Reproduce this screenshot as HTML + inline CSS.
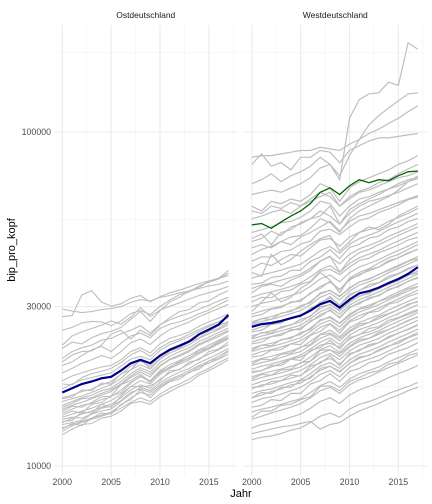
<!DOCTYPE html>
<html><head><meta charset="utf-8">
<style>
html,body{margin:0;padding:0;background:#fff;}
svg{display:block;font-family:"Liberation Sans",sans-serif;}
</style></head>
<body>
<svg id="chart" width="432" height="504" viewBox="0 0 432 504">
<g id="grid"></g>
<g id="lines"></g>
<g id="axes"></g>
</svg>
<script>
const years = [2000,2001,2002,2003,2004,2005,2006,2007,2008,2009,2010,2011,2012,2013,2014,2015,2016,2017];
const panels = ["Ostdeutschland","Westdeutschland"];
const yTicks = [10000,30000,100000];
const yTickLabels = ["10000","30000","100000"];
const yMinor = [17320,54770,173200];
const xTicks = [2000,2005,2010,2015];
const xMinor = [2002.5,2007.5,2012.5,2017.5];
// values in thousands of euros
const eastGray = [
[13.0,13.3,13.6,13.9,14.2,14.5,15.2,16.0,16.6,16.3,17.3,18.0,18.5,19.0,19.8,20.3,20.9,21.6],
[13.5,13.9,14.3,14.6,15.0,15.3,16.0,16.9,17.5,17.1,18.2,19.0,19.5,20.2,21.0,21.6,22.3,23.1],
[14.0,14.3,14.6,14.9,15.3,15.7,16.4,17.3,18.0,17.6,18.8,19.6,20.2,20.8,21.7,22.4,23.2,24.0],
[14.4,14.8,15.2,15.4,15.8,16.1,16.9,17.8,18.5,18.0,19.3,20.1,20.7,21.4,22.3,23.0,23.8,24.6],
[14.8,15.2,15.5,15.9,16.3,16.7,17.5,18.4,19.1,18.5,19.9,20.8,21.3,22.0,23.0,23.7,24.4,25.3],
[15.2,15.6,16.0,16.3,16.8,17.1,17.9,18.9,19.7,19.1,20.4,21.3,22.0,22.6,23.6,24.3,25.1,25.9],
[15.6,15.9,16.2,16.6,17.1,17.5,18.3,19.4,20.1,19.5,20.9,21.8,22.4,23.1,24.1,24.9,25.6,26.5],
[16.0,16.3,16.7,17.0,17.5,17.9,18.8,19.9,20.6,19.9,21.4,22.4,23.0,23.7,24.7,25.5,26.3,27.1],
[13.8,14.0,13.9,14.3,14.9,15.1,15.7,16.6,17.0,16.6,17.5,18.2,18.7,19.3,20.0,20.6,21.3,22.2],
[17.0,17.6,18.1,18.4,18.7,19.0,19.9,20.9,21.3,20.8,22.2,23.1,23.7,24.4,25.3,26.1,27.0,27.8],
[19.0,19.6,20.3,20.8,21.4,21.0,22.0,23.4,24.0,23.1,24.5,25.6,26.3,27.0,28.0,28.8,29.6,30.5],
[21.0,22.0,22.6,23.0,23.8,24.1,24.9,25.5,26.3,25.0,26.5,27.4,28.1,28.7,29.5,30.3,31.2,32.0],
[23.0,24.5,25.2,25.8,26.4,27.2,26.6,27.9,29.8,28.0,29.3,30.1,30.8,31.6,32.4,33.0,33.7,34.5],
[28.0,28.2,32.5,33.5,31.0,30.1,30.6,31.8,32.4,31.0,32.1,33.0,33.6,34.4,35.2,35.8,36.4,37.2],
[29.5,29.1,28.8,29.0,29.4,29.6,30.0,30.9,31.5,31.2,32.0,32.4,33.0,33.4,34.0,34.6,35.0,35.8],
[25.5,26.0,26.8,27.1,27.0,26.3,27.2,28.6,29.2,28.4,30.0,31.4,32.6,33.2,34.6,35.5,36.3,37.8],
[20.0,20.5,21.4,22.3,22.8,22.0,23.3,24.5,25.0,24.2,25.8,26.6,27.0,27.7,28.6,29.3,30.4,31.4],
[18.0,18.6,19.0,19.4,19.8,20.0,20.8,22.0,22.6,21.8,23.2,24.1,24.6,25.2,26.2,27.0,27.7,28.6],
[14.6,15.1,15.0,15.5,16.1,16.2,17.5,18.0,18.8,17.9,19.0,19.8,20.4,21.1,21.9,22.6,23.4,24.2],
[12.7,13.2,13.5,13.8,14.1,14.4,14.9,15.5,16.0,15.6,16.4,17.1,17.6,18.2,19.0,19.6,20.4,21.1],
[13.3,13.5,13.7,14.3,14.6,14.8,15.6,16.4,17.2,16.8,17.8,18.5,19.1,19.6,20.4,21.0,21.7,22.5],
[15.0,15.4,15.9,16.0,16.5,16.9,17.6,18.6,19.4,18.8,20.0,20.9,21.5,22.2,23.2,23.9,24.7,25.5],
[12.9,13.4,13.2,13.9,14.4,14.3,15.3,15.8,16.9,16.0,17.1,17.9,18.2,19.1,19.5,20.6,21.0,22.0],
[13.6,13.7,14.5,14.4,15.3,15.0,16.2,17.3,17.3,17.4,18.0,19.3,19.4,20.5,20.8,22.0,22.4,23.5],
[14.2,14.6,14.4,15.3,15.5,16.2,16.6,17.7,18.6,17.8,19.2,19.7,20.6,21.0,22.2,22.6,23.6,24.3],
[12.4,12.9,13.3,13.4,13.9,14.1,14.6,15.4,15.6,15.3,16.1,16.7,17.3,17.8,18.7,19.3,20.0,20.8],
[15.9,16.1,16.9,16.8,17.7,17.6,18.9,19.4,20.8,19.6,21.0,22.1,22.6,23.5,24.2,25.3,25.8,26.9],
[20.5,21.5,22.0,22.1,23.0,24.8,25.5,24.0,25.5,24.6,26.4,27.8,29.0,29.4,30.8,31.2,32.5,33.5],
[22.5,23.5,23.2,24.2,24.9,25.3,26.0,27.5,29.0,27.1,29.2,31.0,32.0,33.5,34.2,35.8,36.5,38.5],
[17.6,17.5,18.4,18.9,19.2,19.6,20.4,21.5,22.2,21.3,22.6,23.5,24.0,24.8,25.6,26.4,27.0,28.0]
];
const westGray = [
[12.0,12.2,12.3,12.5,12.8,13.0,13.5,14.1,14.4,14.0,14.8,15.3,15.6,16.0,16.5,16.9,17.3,17.8],
[13.0,13.3,13.5,13.7,14.0,14.3,14.9,15.6,16.0,15.4,16.3,16.9,17.3,17.8,18.4,18.9,19.4,20.0],
[14.5,14.8,15.0,15.3,15.6,15.9,16.6,17.4,17.9,17.2,18.2,18.9,19.3,19.8,20.5,21.1,21.7,22.4],
[15.5,15.9,16.1,16.4,16.8,17.2,17.9,18.8,19.3,18.5,19.7,20.4,20.9,21.4,22.1,22.8,23.5,24.2],
[16.5,16.8,17.0,17.4,17.8,18.1,18.9,19.9,20.4,19.6,20.8,21.6,22.1,22.7,23.5,24.2,24.9,25.7],
[17.5,17.9,18.2,18.5,18.9,19.3,20.1,21.1,21.7,20.8,22.1,23.0,23.5,24.1,25.0,25.7,26.5,27.3],
[18.5,18.9,19.2,19.5,19.9,20.3,21.2,22.3,22.9,21.9,23.3,24.2,24.8,25.4,26.3,27.1,27.9,28.8],
[19.5,19.9,20.2,20.6,21.0,21.5,22.4,23.5,24.2,23.1,24.6,25.6,26.2,26.9,27.8,28.6,29.5,30.4],
[20.5,21.0,21.3,21.7,22.1,22.6,23.6,24.8,25.5,24.4,25.9,26.9,27.6,28.3,29.3,30.2,31.1,32.0],
[21.5,22.0,22.3,22.7,23.2,23.7,24.7,26.0,26.7,25.5,27.2,28.2,28.9,29.7,30.7,31.6,32.6,33.6],
[22.5,23.0,23.3,23.8,24.3,24.8,25.9,27.2,28.0,26.8,28.5,29.6,30.3,31.1,32.2,33.2,34.2,35.2],
[23.5,24.0,24.4,24.9,25.4,25.9,27.0,28.4,29.2,27.9,29.7,30.9,31.6,32.5,33.6,34.6,35.7,36.8],
[24.5,25.0,25.4,25.9,26.5,27.0,28.2,29.6,30.5,29.1,31.0,32.2,33.0,33.9,35.1,36.1,37.2,38.4],
[25.5,26.1,26.5,27.0,27.6,28.1,29.4,30.9,31.8,30.3,32.3,33.6,34.4,35.3,36.5,37.6,38.8,40.0],
[27.0,27.6,28.0,28.6,29.2,29.8,31.1,32.7,33.6,32.1,34.2,35.5,36.4,37.4,38.7,39.9,41.1,42.4],
[28.5,29.1,29.6,30.1,30.8,31.4,32.8,34.5,35.5,33.8,36.0,37.5,38.4,39.4,40.8,42.0,43.3,44.6],
[30.0,30.7,31.1,31.7,32.4,33.1,34.5,36.3,37.3,35.6,37.9,39.4,40.4,41.5,42.9,44.2,45.5,47.0],
[32.0,32.7,33.2,33.8,34.5,35.3,36.8,38.7,39.8,38.0,40.4,42.0,43.1,44.2,45.8,47.2,48.6,50.1],
[34.0,34.8,35.3,36.0,36.7,37.5,39.1,41.1,42.3,40.3,43.0,44.7,45.8,47.0,48.7,50.1,51.6,53.2],
[36.5,37.3,37.9,38.6,39.4,40.2,42.0,44.1,45.4,43.3,46.1,47.9,49.1,50.4,52.2,53.8,55.4,57.1],
[39.0,40.5,39.8,41.5,43.0,42.5,45.0,47.5,48.0,45.5,48.5,50.0,51.0,52.0,54.0,55.5,57.0,59.0],
[43.0,44.5,45.5,47.0,46.0,48.5,50.0,52.0,54.0,50.5,54.0,56.0,57.0,58.5,60.0,61.5,63.0,64.5],
[47.0,48.0,50.5,49.0,52.0,53.0,55.0,58.0,56.0,53.0,57.0,60.0,62.0,63.0,64.5,66.0,68.0,70.0],
[55.0,56.0,57.5,58.5,57.0,60.0,62.0,64.0,66.0,60.0,63.0,66.0,67.0,69.0,71.0,73.0,74.0,76.0],
[60.0,58.0,62.0,61.0,63.0,62.0,65.0,70.0,68.0,62.0,68.0,71.0,73.0,75.0,77.0,80.0,82.0,85.0],
[80.0,86.0,79.0,81.0,77.0,84.0,84.0,88.0,87.0,81.0,88.0,91.0,94.0,96.0,96.0,97.0,98.0,99.0],
[84.0,85.0,85.0,86.0,87.0,88.0,88.0,90.0,89.0,88.0,92.0,95.0,99.0,102.0,106.0,110.0,115.0,120.0],
[70.0,72.0,75.0,71.0,74.0,76.0,79.0,84.0,80.0,72.0,110.0,125.0,130.0,131.0,141.0,138.0,185.0,177.0],
[65.0,66.0,67.0,66.0,68.0,70.0,73.0,78.0,80.0,74.0,85.0,95.0,105.0,112.0,118.0,124.0,130.0,131.0],
[45.0,46.0,45.0,47.0,48.5,49.0,51.5,55.0,53.5,50.0,55.0,58.0,60.0,62.0,64.0,67.0,71.0,74.0],
[38.0,37.0,43.0,40.0,41.5,44.0,46.0,48.0,49.0,44.0,47.0,50.0,52.0,51.0,53.0,56.0,58.0,60.0],
[29.0,31.0,33.0,31.0,32.0,34.0,35.5,38.0,36.0,33.0,36.5,38.0,39.0,40.5,42.0,43.0,44.5,46.0],
[19.0,19.3,19.8,20.3,20.9,21.2,22.0,23.0,23.3,22.7,24.0,24.8,25.2,25.9,26.9,27.7,28.4,29.2],
[13.8,14.1,14.4,14.7,15.0,15.4,16.0,16.8,17.2,16.5,17.5,18.1,18.5,19.1,19.7,20.3,20.9,21.5],
[16.0,16.3,16.7,17.0,17.5,17.7,18.5,19.3,19.9,19.1,20.3,21.0,21.5,22.1,22.8,23.6,24.3,25.1],
[12.5,12.7,12.9,13.1,13.2,13.4,13.6,12.9,13.3,13.5,14.1,14.6,15.0,15.4,15.9,16.3,16.8,17.2],
[17.0,17.5,17.6,18.0,18.3,18.7,19.5,20.5,21.0,20.2,21.5,22.3,22.8,23.4,24.2,25.0,25.7,26.5],
[18.0,18.4,18.7,19.0,19.4,19.8,20.6,21.7,22.3,21.3,22.7,23.6,24.1,24.8,25.6,26.4,27.2,28.0],
[20.0,20.4,20.7,21.1,21.6,22.0,23.0,24.1,24.8,23.7,25.2,26.2,26.9,27.6,28.5,29.4,30.3,31.2],
[22.0,22.5,22.8,23.2,23.7,24.2,25.3,26.6,27.3,26.1,27.8,28.9,29.6,30.4,31.4,32.4,33.4,34.4],
[24.0,24.5,24.9,25.4,25.9,26.4,27.6,29.0,29.8,28.5,30.3,31.5,32.3,33.2,34.3,35.3,36.4,37.6],
[26.5,27.1,27.5,28.0,28.6,29.2,30.4,32.0,32.9,31.4,33.4,34.8,35.6,36.6,37.9,39.0,40.2,41.4],
[33.0,34.5,35.0,34.5,36.0,37.0,38.5,41.0,42.5,38.0,41.5,43.5,44.5,46.0,47.5,49.0,50.5,52.0],
[50.0,51.0,52.0,53.5,54.0,55.5,58.0,62.0,61.0,56.0,60.0,63.0,64.0,66.0,67.5,69.0,71.0,72.5],
[14.0,14.6,14.6,15.2,15.3,15.8,16.1,17.3,17.4,16.8,17.9,18.4,19.0,19.3,20.2,20.5,21.4,21.8],
[15.0,15.2,15.8,15.7,16.5,16.5,17.6,18.0,18.9,17.9,19.2,19.6,20.4,20.7,21.6,22.1,22.6,23.4],
[16.0,16.6,16.5,17.2,17.2,18.0,18.3,19.6,19.9,19.2,20.3,21.2,21.4,22.3,22.9,23.3,24.2,24.8],
[17.2,17.3,17.9,18.0,18.7,18.6,19.9,20.3,21.4,20.0,21.7,22.1,23.1,23.4,24.4,25.0,25.6,26.4],
[18.2,18.8,18.7,19.4,19.5,20.4,20.6,22.2,22.3,21.7,22.8,23.9,24.1,25.1,25.6,26.4,27.3,27.9],
[19.2,19.3,20.0,20.0,20.9,20.7,22.2,22.6,23.8,22.4,24.2,24.7,25.8,26.1,27.3,27.8,28.7,29.4],
[20.2,20.9,20.8,21.6,21.8,22.7,23.1,24.7,25.0,24.1,25.4,26.6,26.9,28.0,28.6,29.4,30.5,31.0],
[21.2,21.4,22.2,22.3,23.2,23.1,24.6,25.3,26.6,25.0,27.0,27.6,28.8,29.1,30.5,31.0,32.2,32.9],
[22.2,23.0,22.9,23.9,24.1,25.1,25.6,27.4,27.8,26.7,28.2,29.5,29.9,31.1,31.8,32.7,33.9,34.5],
[23.2,23.5,24.4,24.6,25.6,25.6,27.2,28.0,29.4,27.7,29.9,30.6,31.9,32.3,33.8,34.4,35.7,36.5],
[24.2,25.1,25.0,26.1,26.4,27.5,28.0,30.0,30.4,29.3,30.9,32.3,32.8,34.1,34.9,35.9,37.2,37.9],
[25.2,25.5,26.5,26.8,27.9,28.0,29.7,30.6,32.2,30.3,32.7,33.5,34.9,35.4,37.0,37.7,39.1,40.0],
[26.7,27.6,27.5,28.7,29.0,30.2,30.8,33.0,33.5,32.3,34.0,35.6,36.2,37.5,38.5,39.6,41.0,41.8],
[28.0,28.4,29.5,29.8,31.0,31.1,33.0,34.0,35.8,33.7,36.4,37.2,38.8,39.4,41.2,42.0,43.5,44.5],
[31.0,32.0,31.9,33.3,33.6,35.0,35.7,38.3,38.8,37.4,39.4,41.2,41.9,43.5,44.6,45.9,47.5,48.4],
[35.0,35.3,36.7,37.0,38.5,38.6,41.0,42.2,44.4,41.8,45.1,46.1,48.1,48.8,51.0,52.0,53.9,55.1],
[41.0,42.3,42.2,43.9,44.3,46.2,47.1,50.5,51.2,49.3,52.0,54.4,55.3,57.4,58.8,60.5,62.7,63.9],
[58.0,57.0,60.0,59.0,61.5,60.0,63.0,66.0,64.0,60.0,64.0,66.5,68.0,70.5,72.0,75.0,77.5,80.0],
[48.0,49.5,46.0,50.0,51.0,53.5,55.0,56.0,60.0,53.0,58.5,61.0,63.0,65.0,67.5,70.0,72.0,73.0]
];
const eastMean = [16.6,17.1,17.6,17.9,18.3,18.5,19.3,20.3,20.8,20.3,21.4,22.3,22.9,23.6,24.8,25.6,26.5,28.3];
const westMean = [26.1,26.6,26.8,27.2,27.7,28.2,29.2,30.5,31.2,29.8,31.5,32.9,33.4,34.2,35.3,36.3,37.6,39.4];
const westHighlight = [52.7,53.2,51.5,53.8,56.0,58.0,61.0,66.0,68.0,65.0,69.0,72.0,70.5,72.0,71.5,74.0,76.0,76.4];

const NS = "http://www.w3.org/2000/svg";
const panelX0 = [54, 243.5], panelW = 183.5, panelTop = 25, panelBot = 476;
const x0Year = [62.3, 251.8], pxPerYear = 9.77;
function xScale(p, yr) { return x0Year[p] + (yr - 2000) * pxPerYear; }
function yScale(v) { return 466 - 334 * Math.log10(v / 10000); }
function mk(tag, attrs, parent) {
  const e = document.createElementNS(NS, tag);
  for (const k in attrs) e.setAttribute(k, attrs[k]);
  parent.appendChild(e);
  return e;
}
const grid = document.getElementById('grid');
const lines = document.getElementById('lines');
const axes = document.getElementById('axes');

for (let p = 0; p < 2; p++) {
  const L = panelX0[p], R = L + panelW;
  yMinor.forEach(v => {
    const l = mk('line', {x1: L, x2: R, y1: yScale(v), y2: yScale(v), stroke: '#f2f2f2', 'stroke-width': 0.6}, grid);
    
    
  });
  xMinor.forEach(v => {
    const l = mk('line', {x1: xScale(p, v), x2: xScale(p, v), y1: panelTop, y2: panelBot, stroke: '#f2f2f2', 'stroke-width': 0.6}, grid);
    
    
  });
  yTicks.forEach(v => {
    const l = mk('line', {x1: L, x2: R, y1: yScale(v), y2: yScale(v), stroke: '#ebebeb', 'stroke-width': 1.1}, grid);
    
    
  });
  xTicks.forEach(v => {
    const l = mk('line', {x1: xScale(p, v), x2: xScale(p, v), y1: panelTop, y2: panelBot, stroke: '#ebebeb', 'stroke-width': 1.1}, grid);
    
    
  });
  const s = mk('text', {x: L + panelW / 2, y: 18, 'font-size': 8.5, fill: '#1a1a1a', 'text-anchor': 'middle'}, axes);
  s.textContent = panels[p];
  
  
  xTicks.forEach(v => {
    const t = mk('text', {x: xScale(p, v), y: 485, 'font-size': 8.8, fill: '#4d4d4d', 'text-anchor': 'middle'}, axes);
    t.textContent = String(v);
    
    
  });
}
yTicks.forEach((v, i) => {
  const t = mk('text', {x: 51, y: yScale(v) + 3, 'font-size': 8.8, fill: '#4d4d4d', 'text-anchor': 'end'}, axes);
  t.textContent = yTickLabels[i];
  
  
});

function path(p, vals) {
  return vals.map((v, i) => (i ? 'L' : 'M') + xScale(p, years[i]).toFixed(1) + ',' + yScale(v * 1000).toFixed(1)).join('');
}
eastGray.forEach(s => {
  const e = mk('path', {d: path(0, s), fill: 'none', stroke: '#bebebe', 'stroke-width': 1.1}, lines);
  
  
});
westGray.forEach(s => {
  const e = mk('path', {d: path(1, s), fill: 'none', stroke: '#bebebe', 'stroke-width': 1.2}, lines);
  
  
});
const e1 = mk('path', {d: path(0, eastMean), fill: 'none', stroke: '#00008b', 'stroke-width': 2.2}, lines);


const e2 = mk('path', {d: path(1, westMean), fill: 'none', stroke: '#00008b', 'stroke-width': 2.2}, lines);


const e3 = mk('path', {d: path(1, westHighlight), fill: 'none', stroke: '#006400', 'stroke-width': 1.3}, lines);



const xt = mk('text', {x: 241, y: 497, 'font-size': 11, fill: '#000', 'text-anchor': 'middle'}, axes);
xt.textContent = 'Jahr';


const yt = mk('text', {x: 0, y: 0, 'font-size': 11, fill: '#000', 'text-anchor': 'middle', transform: 'translate(15,250) rotate(-90)'}, axes);
yt.textContent = 'bip_pro_kopf';


</script>
</body></html>
